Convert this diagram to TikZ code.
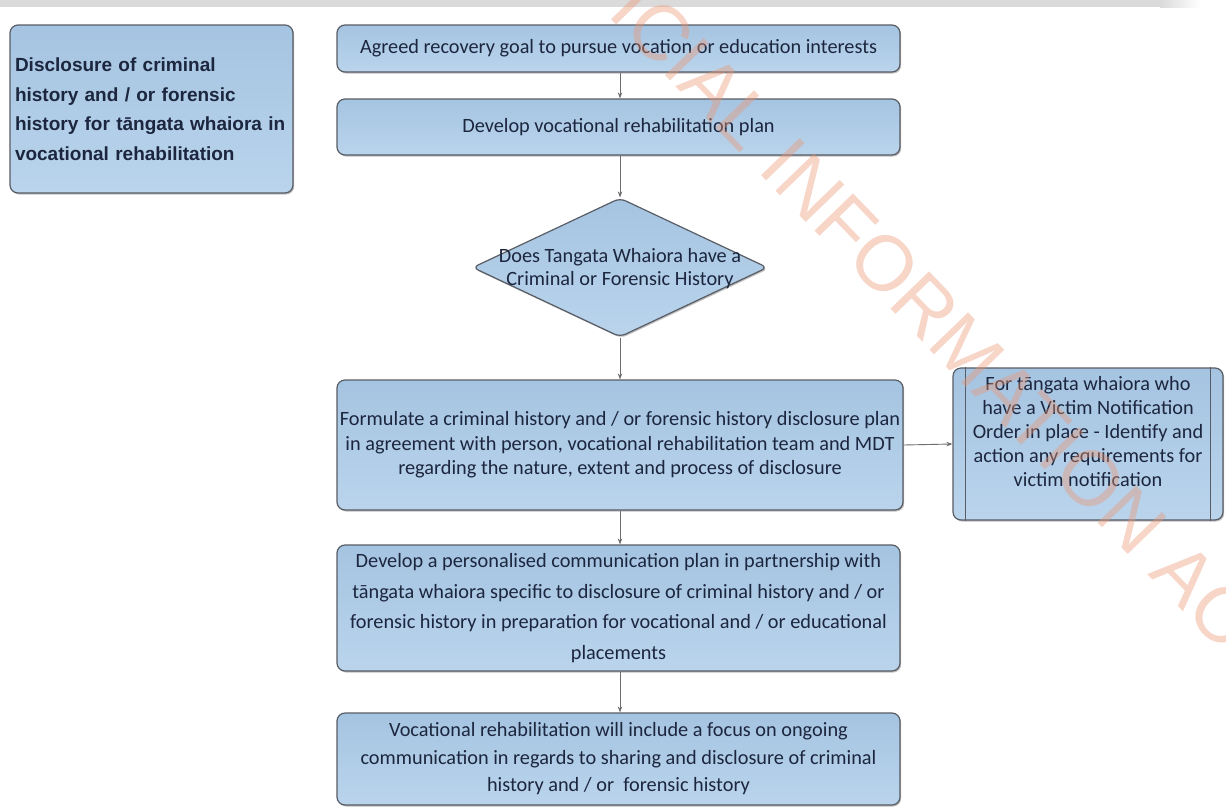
\documentclass[tikz,border=0pt]{standalone}
\usepackage{fontspec}
\setmainfont{Carlito}
\newfontfamily\headfont{Liberation Sans}
\newfontfamily\markfont{Liberation Sans}
\usetikzlibrary{shapes.geometric, arrows.meta, shadows, calc}

\definecolor{boxtop}{RGB}{165,196,225}
\definecolor{boxbot}{RGB}{186,212,236}
\definecolor{boxline}{RGB}{88,92,100}
\definecolor{inktext}{RGB}{28,38,62}
\definecolor{flowline}{RGB}{110,110,110}
\definecolor{barcol}{RGB}{218,218,218}
\definecolor{markcol}{RGB}{236,150,115}

\tikzset{
  flowbox/.style={draw=boxline, line width=1.2pt, rounded corners=8pt,
    top color=boxtop, bottom color=boxbot, text=inktext, align=center,
    inner sep=2pt,
    drop shadow={shadow xshift=1.2pt, shadow yshift=-1.5pt, opacity=0.25, fill=black}},
  decisionbox/.style={flowbox, diamond, rounded corners=6pt, inner sep=0pt},
  boxtext/.style={text=inktext, align=center, inner sep=0pt},
  flowarrow/.style={draw=flowline, line width=0.9pt,
    -{Stealth[length=6pt, width=4.5pt]}},
}

\begin{document}
\begin{tikzpicture}[x=1pt, y=-1pt]
\useasboundingbox (0,0) rectangle (1226,809);
\fill[white] (0,0) rectangle (1226,809);

% grey rule along the top edge
\fill[barcol] (0,0) rectangle (1160,7);
\shade[left color=barcol, right color=white] (1160,0) rectangle (1200,7);

% heading box
\node[flowbox, minimum width=283pt, minimum height=168pt, align=left,
      inner xsep=5pt, text width=273pt,
      font=\headfont\bfseries\fontsize{19}{29.5}\selectfont] (title) at (151.5,109)
  {Disclosure of criminal\\history and / or forensic\\history for tāngata whaiora in\\vocational rehabilitation};

% main column
\node[flowbox, minimum width=563pt, minimum height=47pt,
      font=\fontsize{20.3}{24}\selectfont] (goal) at (618.5,48.5)
  {Agreed recovery goal to pursue vocation or education interests};

\node[flowbox, minimum width=563pt, minimum height=56pt,
      font=\fontsize{20.3}{24}\selectfont] (plan) at (618.5,127)
  {Develop vocational rehabilitation plan};

\node[decisionbox, minimum width=295pt, minimum height=139pt] (ask) at (620,267.5) {};
\node[boxtext, font=\fontsize{20.3}{23}\selectfont] (asktext) at (620,268.5)
  {Does Tangata Whaiora have a\\Criminal or Forensic History};

\node[flowbox, minimum width=566pt, minimum height=130pt,
      font=\fontsize{20.3}{24.5}\selectfont] (formulate) at (620,445)
  {Formulate a criminal history and / or forensic history disclosure plan\\
   in agreement with person, vocational rehabilitation team and MDT\\
   regarding the nature, extent and process of disclosure};

\node[flowbox, minimum width=563pt, minimum height=126pt,
      font=\fontsize{20.3}{30.5}\selectfont] (comms) at (618.5,608)
  {Develop a personalised communication plan in partnership with\\
   tāngata whaiora specific to disclosure of criminal history and / or\\
   forensic history in preparation for vocational and / or educational\\
   placements};

\node[flowbox, minimum width=563pt, minimum height=92pt,
      font=\fontsize{20.3}{27.5}\selectfont] (ongoing) at (618.5,759)
  {Vocational rehabilitation will include a focus on ongoing\\
   communication in regards to sharing and disclosure of criminal\\
   history and / or\ \ forensic history};

% side process box
\node[flowbox, minimum width=270pt, minimum height=152pt] (victim) at (1088,444) {};
\draw[boxline, line width=1.2pt]
  ($(victim.north west)+(13,0)$) -- ($(victim.south west)+(13,0)$)
  ($(victim.north east)+(-13,0)$) -- ($(victim.south east)+(-13,0)$);
\node[boxtext, font=\fontsize{20.3}{24}\selectfont] (victimtext) at (1088,431.5)
  {For tāngata whaiora who\\have a Victim Notification\\Order in place - Identify and\\action any requirements for\\victim notification};

% connectors
\draw[flowarrow] (goal.south -| 620,0) -- (plan.north -| 620,0);
\draw[flowarrow] (plan.south -| ask.north) -- (ask.north);
\draw[flowarrow] (ask.south) -- (formulate.north -| ask.south);
\draw[flowarrow] (formulate.south -| ask.south) -- (comms.north -| ask.south);
\draw[flowarrow] (comms.south -| ask.south) -- (ongoing.north -| ask.south);
\draw[flowarrow] (formulate.east) -- (victim.west);

% diagonal stamp across the sheet
\begin{scope}
\clip (0,0) rectangle (1226,809);
\node[rotate=-46, text=markcol, opacity=0.4,
      font=\markfont\fontsize{78}{78}\selectfont] (stamp) at (896,276)
  {OFFICIAL INFORMATION ACT};
\end{scope}
\end{tikzpicture}
\end{document}
